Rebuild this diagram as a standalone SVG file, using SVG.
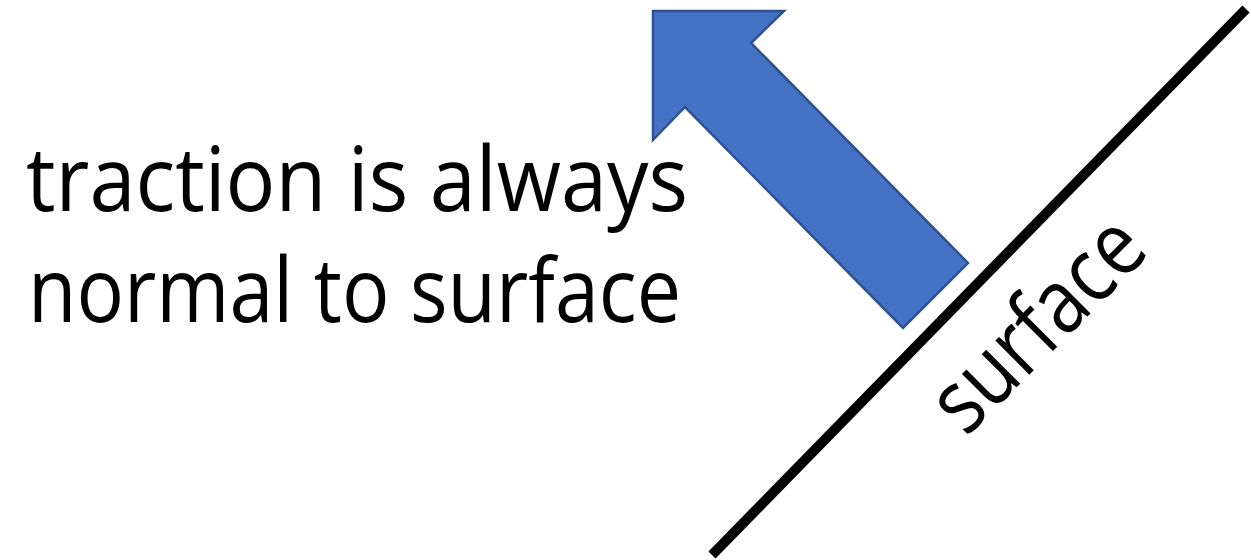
<svg xmlns="http://www.w3.org/2000/svg" width="1251" height="560" viewBox="0 0 1251 560">
<style>
.t{font-family:"Open Sans","Liberation Sans",sans-serif;font-size:90px;fill:#000}
.arrow{fill:#4472C4;stroke:#2F528F;stroke-width:2.5;stroke-linejoin:miter}
</style>
<rect width="1251" height="560" fill="#fff"/>
<g id="surface-line">
<line x1="712" y1="555" x2="1246" y2="9" stroke="#000" stroke-width="10"/>
</g>
<g id="traction-arrow">
<polygon class="arrow" points="653,11 784,11 751,43 968,263 903,328 685,107 653,140"/>
</g>
<g id="label">
<text class="t" x="26" y="211" textLength="662" lengthAdjust="spacingAndGlyphs">traction is always</text>
<text class="t" x="28" y="322" textLength="653" lengthAdjust="spacingAndGlyphs">normal to surface</text>
</g>
<g id="surface-label">
<text class="t" transform="translate(966,438) rotate(-45)" textLength="262" lengthAdjust="spacingAndGlyphs">surface</text>
</g>
</svg>
